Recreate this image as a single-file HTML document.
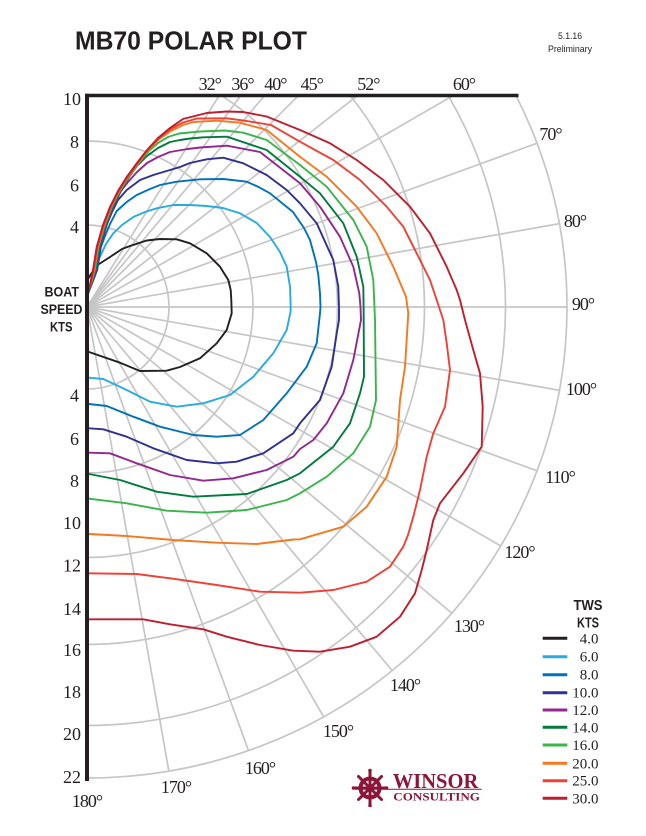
<!DOCTYPE html>
<html><head><meta charset="utf-8"><style>
html,body{margin:0;padding:0;background:#fff;}
svg{display:block;}
.g{stroke:#c6c6c6;stroke-width:1.7;fill:none;}
.c{fill:none;stroke-width:1.9;stroke-linejoin:round;stroke-linecap:round;}
.ang{font-family:"Liberation Serif",serif;font-size:18px;fill:#231f20;letter-spacing:-1px;text-anchor:middle;}
.ax{font-family:"Liberation Serif",serif;font-size:18px;fill:#231f20;text-anchor:end;}
.lg{font-family:"Liberation Serif",serif;font-size:15px;fill:#231f20;text-anchor:end;}
.sb{font-family:"Liberation Sans",sans-serif;font-weight:bold;fill:#231f20;}
</style></head><body>
<svg width="646" height="836" viewBox="0 0 646 836" xmlns="http://www.w3.org/2000/svg">
<defs>
<clipPath id="rc"><rect x="87" y="96" width="560" height="740"/></clipPath>
<clipPath id="ec"><ellipse cx="87" cy="307" rx="480" ry="471"/></clipPath>
</defs>
<rect width="646" height="836" fill="#fff"/>

<!-- Title -->
<text x="75" y="49.5" class="sb" font-size="25.5" textLength="232" lengthAdjust="spacingAndGlyphs">MB70 POLAR PLOT</text>
<text x="570" y="39" font-family="Liberation Sans, sans-serif" font-size="9" fill="#231f20" text-anchor="middle" textLength="24" lengthAdjust="spacingAndGlyphs">5.1.16</text>
<text x="570" y="52" font-family="Liberation Sans, sans-serif" font-size="9.5" fill="#231f20" text-anchor="middle" textLength="44" lengthAdjust="spacingAndGlyphs">Preliminary</text>

<!-- Grid -->
<g clip-path="url(#rc)">
<g class="g">
<circle cx="87" cy="307" r="82"/>
<circle cx="87" cy="307" r="166"/>
<circle cx="87" cy="307" r="250.5"/>
<circle cx="87" cy="307" r="337.5"/>
<circle cx="87" cy="307" r="418.5"/>
<ellipse cx="87" cy="307" rx="480" ry="471"/>
</g>
<g class="g" clip-path="url(#ec)">
<line x1="87" y1="307" x2="346.7" y2="-108.5"/>
<line x1="87" y1="307" x2="375" y2="-89.4"/>
<line x1="87" y1="307" x2="402" y2="-68.3"/>
<line x1="87" y1="307" x2="433.5" y2="-39.5"/>
<line x1="87" y1="307" x2="473.1" y2="5.3"/>
<line x1="87" y1="307" x2="511.3" y2="62"/>
<line x1="87" y1="307" x2="547.5" y2="139.4"/>
<line x1="87" y1="307" x2="569.6" y2="221.9"/>
<line x1="87" y1="307" x2="577" y2="307"/>
<line x1="87" y1="307" x2="569.6" y2="392.1"/>
<line x1="87" y1="307" x2="547.5" y2="474.6"/>
<line x1="87" y1="307" x2="511.3" y2="552"/>
<line x1="87" y1="307" x2="462.3" y2="622"/>
<line x1="87" y1="307" x2="402" y2="682.3"/>
<line x1="87" y1="307" x2="332" y2="731.3"/>
<line x1="87" y1="307" x2="254.6" y2="767.4"/>
<line x1="87" y1="307" x2="172.1" y2="789.6"/>
</g>
</g>

<!-- Curves -->
<polyline class="c" stroke="#231f20" points="88,279 96,266 110,257 122,249 130,246 146.7,240.5 160,239 176.7,239.3 190,243.3 206.7,253.3 220,266.7 228.3,280 230.7,290 231.3,300 231.7,313.3 226.7,330 216.7,343.3 200,358.3 180,367 166.7,370.7 140,371 120,362.7 89,352"/>
<polyline class="c" stroke="#29abe2" points="88.3,291 94,272 100,256.7 106,244 113.3,233.3 122,225 133.3,217 145,212 156.7,208.3 173.3,205 190,205 206.7,206 223,208 240,213.3 256.7,223 270,237 280,252 286.7,266.7 290,286.7 290.7,306.7 290.5,312 286.7,330 273.3,353.3 253.3,376.7 230,395 203.3,403.3 176.7,406.7 150,401.7 126.7,390 103.3,379 89,377.7"/>
<polyline class="c" stroke="#0071bc" points="88.3,293 97.2,270 100.9,247 105,236 110,224 116.7,211 126.7,202 136.7,195 150,189 160,185 176.7,181.7 200,179.3 223.3,179 246.7,181.7 258,186.7 270,193.3 293,212 304,228 310,240 316,262 318.3,275 320,293.3 320.5,307 320,313.3 316.7,343.3 306.7,366.7 286.7,393.3 263.3,420 240,435 216.7,436.7 193.3,435 160,426.7 133.3,416.7 106.7,406 89,404"/>
<polyline class="c" stroke="#2e3192" points="88.3,293 96.6,270 100.3,247 106.6,225 112,212 118,200 126.7,190 140,180 153.3,175 170,170 180,167 190,163 206.7,159.3 223.3,157.7 243.3,163.3 266.7,175 286.7,190 300,203.3 316.7,223.3 333.3,260 338.3,286.7 339,307 339,320 336.7,333.3 331.7,366.7 320,400 300,423.3 293.3,433.3 263.3,453.3 236.7,461.7 216.7,463.3 186.7,460 153.3,448.3 126.7,436.7 103.3,429.3 89,428.3"/>
<polyline class="c" stroke="#92278f" points="88.3,293 96,270 99.7,247 106,225 113,207 121,191 128,182 137,172 147,163 158,157 170,152 187.5,149 200,147.5 227,145.7 260,152 300,183.3 320,206.7 340,236.7 353.3,266.7 359.3,293.3 360.5,307 361,320 353.3,360 343.3,393.3 326.7,423.3 313.3,440 300,449 293.3,456.7 266.7,470 233.3,478.3 203.3,480.7 170,475 136.7,463.3 110,453.3 89,452.7"/>
<polyline class="c" stroke="#007a3d" points="88.3,293 95.4,270 99.1,247 105.4,225 112.4,207 120.4,191 129.1,177 137,166 147,156 158,148 170,142 180,140 190,138.5 203.3,137.3 227,136.7 266.7,150 300,176.7 320,193.3 343.3,223.3 356.7,256.7 363.3,286.7 363.6,307 364,376.7 360,393.3 350,423.3 333.3,446.7 300,473.3 286.7,480 246.7,494 193.3,496.7 156.7,491.7 120,480 89,474"/>
<polyline class="c" stroke="#39b54a" points="88.3,293 94.8,270 98.5,247 104.8,225 111.8,207 119.8,191 128.5,177 138.8,163 148.8,151 158,143 168,137 179,133.5 200,131.5 225,130.5 243.3,132.7 266.7,140 300,165 326.7,186.7 353.3,220 366.7,246.7 373.3,280 375,320 376,400 370,426.7 353.3,453.3 326.7,476.7 300,493.3 286.7,500 246.7,510 206.7,512.7 166.7,510.7 126.7,503.3 89,498.7"/>
<polyline class="c" stroke="#f47920" points="88.3,293 94.2,270 97.9,247 104.2,225 111.2,207 119.2,191 127.9,177 138.2,163 148.2,150 159.2,139 171,131 183,125 193.3,122 216.7,120.7 240,122.7 266.7,130 300,156.7 326.7,176.7 356.7,206.7 376.7,233.3 393.3,266.7 406,296.7 408.3,313.3 405,366.7 400,400 396.7,446.7 386.7,476.7 366.7,506.7 343.3,526.7 300,539.3 293.3,539.5 256.7,544 216.7,542.7 173.3,540 126.7,536 89,534"/>
<polyline class="c" stroke="#ef4136" points="88.3,293 93.6,270 97.3,247 103.6,225 110.6,207 118.6,191 127.3,177 137.6,163 147.6,150 158.6,138.5 170.6,129 183,122.5 197,118.5 226.7,118.3 246.7,121 271,125 300,141.7 333.3,160 360,180 386.7,206.7 403.3,226.7 416.7,253.3 430,280 436.7,300 443.3,320 446.7,343.3 450,370 445,406.7 433.3,433.3 426.7,456.7 420,490 413.3,516.7 408,535 403.3,546.7 390,566.7 366.7,581.7 333.3,590 300,592.7 260,591.7 216.7,585 170,578.3 136.7,574 89,573.3"/>
<polyline class="c" stroke="#be1e2d" points="88.3,293 93,270 96.7,247 103,225 110,207 118,191 126.7,177 137,163 147,150 158,138 170,128 183,119 206.7,113 226.7,111.5 243.3,112 266.7,116.5 300,130 330,143.3 356.7,160 383.3,180 410,206.7 430,233.3 446.7,266.7 456.7,290 460,300 465,320 473.3,350 480,373.3 482.7,406.7 481.7,446.7 463.3,473.3 440,503.3 433.3,520 426.7,550 421.7,570 415,593.3 400,616.7 376.7,636.7 350,646.7 320,651.7 293.3,650.7 260,645 226.7,636.7 203.3,629.3 170,624.3 143.3,619.3 89,619.3"/>

<!-- Axes -->
<line x1="87" y1="93.8" x2="87" y2="781" stroke="#231f20" stroke-width="4"/>
<line x1="85" y1="95.5" x2="518.5" y2="95.5" stroke="#231f20" stroke-width="3.6"/>

<!-- Angle labels -->
<text class="ang" x="209.7" y="90">32°</text>
<text class="ang" x="242.5" y="90">36°</text>
<text class="ang" x="275.3" y="90">40°</text>
<text class="ang" x="311.7" y="90">45°</text>
<text class="ang" x="368.3" y="90">52°</text>
<text class="ang" x="464" y="90">60°</text>
<text class="ang" x="550.5" y="140">70°</text>
<text class="ang" x="575" y="227">80°</text>
<text class="ang" x="583" y="310">90°</text>
<text class="ang" x="581" y="395">100°</text>
<text class="ang" x="560" y="483">110°</text>
<text class="ang" x="519.5" y="558">120°</text>
<text class="ang" x="469" y="632">130°</text>
<text class="ang" x="405" y="691">140°</text>
<text class="ang" x="338" y="737">150°</text>
<text class="ang" x="260" y="774">160°</text>
<text class="ang" x="176" y="793">170°</text>
<text class="ang" x="87" y="807">180°</text>

<!-- Speed labels -->
<text class="ax" x="81" y="105">10</text>
<text class="ax" x="79" y="148">8</text>
<text class="ax" x="79" y="191.7">6</text>
<text class="ax" x="79" y="233">4</text>
<text class="ax" x="79" y="401.7">4</text>
<text class="ax" x="79" y="445">6</text>
<text class="ax" x="79" y="487">8</text>
<text class="ax" x="81" y="529">10</text>
<text class="ax" x="81" y="571.7">12</text>
<text class="ax" x="81" y="615">14</text>
<text class="ax" x="81" y="656">16</text>
<text class="ax" x="81" y="698">18</text>
<text class="ax" x="81" y="740">20</text>
<text class="ax" x="81" y="783">22</text>

<text class="sb" x="44.5" y="296.7" font-size="13.5" textLength="34.5" lengthAdjust="spacingAndGlyphs">BOAT</text>
<text class="sb" x="40.5" y="314" font-size="13.5" textLength="42" lengthAdjust="spacingAndGlyphs">SPEED</text>
<text class="sb" x="50" y="331.7" font-size="13.5" textLength="22.5" lengthAdjust="spacingAndGlyphs">KTS</text>

<!-- Legend -->
<text class="sb" x="573.5" y="610" font-size="14.5" textLength="29" lengthAdjust="spacingAndGlyphs">TWS</text>
<text class="sb" x="577" y="627.5" font-size="14.5" textLength="22" lengthAdjust="spacingAndGlyphs">KTS</text>
<g stroke-width="3">
<line x1="542.7" y1="638.3" x2="567.3" y2="638.3" stroke="#231f20"/>
<line x1="542.7" y1="656.7" x2="567.3" y2="656.7" stroke="#29abe2"/>
<line x1="542.7" y1="674.7" x2="567.3" y2="674.7" stroke="#0071bc"/>
<line x1="542.7" y1="692.7" x2="567.3" y2="692.7" stroke="#2e3192"/>
<line x1="542.7" y1="710" x2="567.3" y2="710" stroke="#92278f"/>
<line x1="542.7" y1="727.3" x2="567.3" y2="727.3" stroke="#007a3d"/>
<line x1="542.7" y1="745" x2="567.3" y2="745" stroke="#39b54a"/>
<line x1="542.7" y1="763.3" x2="567.3" y2="763.3" stroke="#f47920"/>
<line x1="542.7" y1="780.7" x2="567.3" y2="780.7" stroke="#ef4136"/>
<line x1="542.7" y1="798.3" x2="567.3" y2="798.3" stroke="#be1e2d"/>
</g>
<text class="lg" x="598.5" y="643.3">4.0</text>
<text class="lg" x="598.5" y="661.7">6.0</text>
<text class="lg" x="598.5" y="679.7">8.0</text>
<text class="lg" x="598.5" y="697.7">10.0</text>
<text class="lg" x="598.5" y="715">12.0</text>
<text class="lg" x="598.5" y="732.3">14.0</text>
<text class="lg" x="598.5" y="750">16.0</text>
<text class="lg" x="598.5" y="768.3">20.0</text>
<text class="lg" x="598.5" y="785.7">25.0</text>
<text class="lg" x="598.5" y="803.3">30.0</text>

<!-- Logo -->
<g fill="#8c1538" stroke="#8c1538">
<g stroke-width="3" stroke-linecap="round">
<line x1="370" y1="771" x2="370" y2="805"/>
<line x1="354" y1="788" x2="386" y2="788"/>
<line x1="358.5" y1="776.5" x2="381.5" y2="799.5"/>
<line x1="358.5" y1="799.5" x2="381.5" y2="776.5"/>
</g>
<circle cx="370" cy="788" r="9.5" fill="none" stroke-width="4"/>
<circle cx="370" cy="788" r="4" stroke="none"/>
<circle cx="370" cy="770.5" r="1.8" stroke="none"/>
<circle cx="370" cy="805.5" r="1.8" stroke="none"/>
<circle cx="353.5" cy="788" r="1.8" stroke="none"/>
<circle cx="386.5" cy="788" r="1.8" stroke="none"/>
<line x1="355" y1="789.3" x2="481.7" y2="789.3" stroke-width="1"/>
</g>
<text x="392.7" y="788" font-family="Liberation Serif, serif" font-weight="bold" font-size="21" fill="#8c1538" textLength="85.6" lengthAdjust="spacingAndGlyphs">WINSOR</text>
<text x="393.3" y="800.5" font-family="Liberation Serif, serif" font-weight="bold" font-size="11.5" fill="#8c1538" textLength="86.7" lengthAdjust="spacingAndGlyphs">CONSULTING</text>
</svg>
</body></html>
